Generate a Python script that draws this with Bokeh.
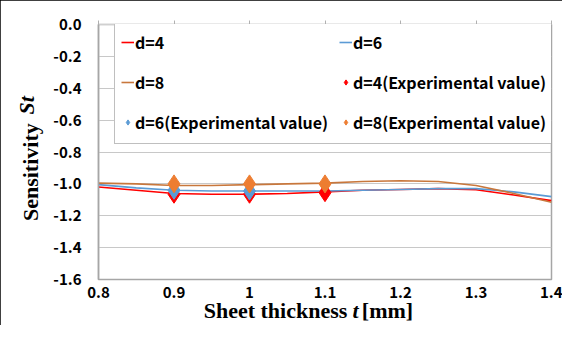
import math
from bokeh.plotting import figure
from bokeh.models import (Range1d, LinearAxis, FixedTicker, Legend, LegendItem)
from bokeh.embed import file_html
from bokeh.resources import INLINE

# ---- data ----
thickness = [0.80, 0.85, 0.90, 0.95, 1.00, 1.05, 1.10, 1.15, 1.20, 1.25, 1.30, 1.35, 1.40]
st_d4 = [-1.020, -1.040, -1.060, -1.065, -1.065, -1.060, -1.050, -1.040, -1.035, -1.030, -1.037, -1.070, -1.105]
st_d6 = [-1.005, -1.025, -1.040, -1.045, -1.045, -1.045, -1.045, -1.040, -1.035, -1.030, -1.030, -1.050, -1.080]
st_d8 = [-0.995, -1.000, -1.010, -1.010, -1.005, -1.000, -0.995, -0.985, -0.980, -0.985, -1.010, -1.060, -1.115]

exp_t4 = [0.9, 1.0, 1.1]
exp_d4 = [-1.065, -1.065, -1.055]
exp_t6 = [0.9, 1.0]
exp_d6 = [-1.040, -1.045]
exp_t8 = [0.9, 1.0, 1.1]
exp_d8 = [-1.000, -1.000, -1.000]

x_ticks = [0.8, 0.9, 1.0, 1.1, 1.2, 1.3, 1.4]
x_tick_labels = ["0.8", "0.9", "1", "1.1", "1.2", "1.3", "1.4"]
y_ticks = [0.0, -0.2, -0.4, -0.6, -0.8, -1.0, -1.2, -1.4, -1.6]
y_tick_labels = ["0.0", "-0.2", "-0.4", "-0.6", "-0.8", "-1.0", "-1.2", "-1.4", "-1.6"]

C_RED = "#ff0000"
C_BLUE = "#5b9bd5"
C_D8LINE = "#c8773c"
C_ORANGE = "#ed7d31"

TICK_FONT = "Noto Sans CJK JP"
TITLE_FONT = "Liberation Serif"
TITLE_SIZE = "22px"
TITLE_H = 24   # measured height of a title text line (px)

# canvas / frame geometry (pixels)
W, H = 562, 325
FL, FR, FT, FB = 98, 551, 24, 283   # frame edges in canvas px
X0, X1, Y0, Y1 = 0.8, 1.4, -1.6, 0.0

def dx(cx):  # canvas px -> data x
    return X0 + (cx - FL) / (FR - FL) * (X1 - X0)

def dy(cy):  # canvas px (from top) -> data y
    return Y1 - (cy - FT) / (FB - FT) * (Y1 - Y0)

p = figure(width=W, height=H, output_backend="svg", toolbar_location=None,
           x_range=Range1d(X0, X1), y_range=Range1d(Y0, Y1),
           min_border_left=FL, min_border_right=W - FR, min_border_top=FT, min_border_bottom=H - FB,
           x_axis_location=None, y_axis_location=None)
p.background_fill_color = "white"
p.border_fill_color = "white"
p.outline_line_color = "#a6a6a6"
p.outline_line_width = 1.5
p.styles = {"outline": "3px solid black", "outline-offset": "-3px"}

def bare_axis(ticks, overrides):
    ax = LinearAxis(ticker=FixedTicker(ticks=ticks), major_label_overrides=overrides)
    ax.axis_line_color = None
    ax.major_tick_line_color = None
    ax.minor_tick_line_color = None
    ax.major_tick_out = 0
    ax.major_tick_in = 0
    return ax

# y axis (left) with tick labels
yax = LinearAxis(ticker=FixedTicker(ticks=y_ticks),
                 major_label_overrides={t: l for t, l in zip(y_ticks, y_tick_labels)})
yax.axis_line_color = "#a6a6a6"
yax.axis_line_width = 1.5
yax.major_tick_line_color = None
yax.minor_tick_line_color = None
yax.major_tick_out = 0
yax.major_label_standoff = 17
yax.major_label_text_font = TICK_FONT
yax.major_label_text_font_style = "bold"
yax.major_label_text_font_size = "15px"
yax.major_label_text_color = "black"
p.add_layout(yax, "left")

# x axis tick labels (below)
xax = bare_axis(x_ticks, {t: l for t, l in zip(x_ticks, x_tick_labels)})
xax.major_label_standoff = 7
xax.major_label_text_font = TICK_FONT
xax.major_label_text_font_style = "bold"
xax.major_label_text_font_size = "15px"
xax.major_label_text_color = "black"
p.add_layout(xax, "below")

# x axis line with tick marks at the top (the axis crosses at 0)
xtop = LinearAxis(ticker=FixedTicker(ticks=x_ticks),
                  major_label_overrides={t: "" for t in x_ticks})
xtop.axis_line_color = "#d0d0d0"
xtop.major_tick_line_color = "#b0b0b0"
xtop.major_tick_out = 4
xtop.major_tick_in = 0
xtop.minor_tick_line_color = None
xtop.major_label_standoff = 0
p.add_layout(xtop, "above")

# ---- x title: "Sheet thickness " (bold) + "t" (bold italic) + "[mm]" (bold) ----
xt_pos_a = [dx(275), dx(387)]
xt1 = bare_axis(xt_pos_a, {xt_pos_a[0]: "Sheet thickness", xt_pos_a[1]: "[mm]"})
xt1.major_label_standoff = -3
xt1.major_label_text_font = TITLE_FONT
xt1.major_label_text_font_style = "bold"
xt1.major_label_text_font_size = TITLE_SIZE
xt1.major_label_text_color = "black"
p.add_layout(xt1, "below")

xt_pos_b = [dx(355)]
xt2 = bare_axis(xt_pos_b, {xt_pos_b[0]: "t"})
xt2.major_label_standoff = -28
xt2.major_label_text_font = TITLE_FONT
xt2.major_label_text_font_style = "bold italic"
xt2.major_label_text_font_size = TITLE_SIZE
xt2.major_label_text_color = "black"
p.add_layout(xt2, "below")

# ---- y title: "Sensitivity " (bold) + "St" (bold italic) ----
yt_pos_a = [dy(174)]
yt1 = bare_axis(yt_pos_a, {yt_pos_a[0]: "Sensitivity"})
yt1.major_label_orientation = "vertical"
yt1.major_label_standoff = 7
yt1.major_label_text_font = TITLE_FONT
yt1.major_label_text_font_style = "bold"
yt1.major_label_text_font_size = TITLE_SIZE
yt1.major_label_text_color = "black"
p.add_layout(yt1, "left")

yt_pos_b = [dy(106)]
yt2 = bare_axis(yt_pos_b, {yt_pos_b[0]: "St"})
yt2.major_label_orientation = "vertical"
yt2.major_label_standoff = -TITLE_H
yt2.major_label_text_font = TITLE_FONT
yt2.major_label_text_font_style = "bold italic"
yt2.major_label_text_font_size = TITLE_SIZE
yt2.major_label_text_color = "black"
p.add_layout(yt2, "left")

# grid
p.ygrid.ticker = FixedTicker(ticks=y_ticks)
p.ygrid.grid_line_color = "#c8c8c8"
p.xgrid.grid_line_color = None

# series
r4 = p.line(thickness, st_d4, line_color=C_RED, line_width=1.6)
r6 = p.line(thickness, st_d6, line_color=C_BLUE, line_width=1.6)
r8 = p.line(thickness, st_d8, line_color=C_D8LINE, line_width=1.6)
m4 = p.scatter(exp_t4, exp_d4, marker="diamond", size=18, fill_color=C_RED, line_color=C_RED)
m6 = p.scatter(exp_t6, exp_d6, marker="diamond", size=18, fill_color=C_BLUE, line_color=C_BLUE)
m8 = p.scatter(exp_t8, exp_d8, marker="diamond", size=18, fill_color=C_ORANGE, line_color=C_ORANGE)

legend = Legend(items=[
    LegendItem(label="d=4", renderers=[r4]),
    LegendItem(label="d=6", renderers=[r6]),
    LegendItem(label="d=8", renderers=[r8]),
    LegendItem(label="d=4(Experimental value)", renderers=[m4]),
    LegendItem(label="d=6(Experimental value)", renderers=[m6]),
    LegendItem(label="d=8(Experimental value)", renderers=[m8]),
], location=(16, FB - 148), orientation="horizontal", ncols=2)
legend.border_line_color = "#808080"
legend.border_line_width = 1.5
legend.background_fill_color = "white"
legend.background_fill_alpha = 1.0
legend.label_text_font = TICK_FONT
legend.label_text_font_style = "bold"
legend.label_text_font_size = "16px"
legend.label_text_color = "black"
legend.glyph_width = 13
legend.glyph_height = 30
legend.label_height = 30
legend.label_standoff = 1
legend.label_width = 194
legend.spacing = 10
legend.padding = 6
legend.margin = 0
p.add_layout(legend, "center")

open("out.html", "w").write(file_html(p, INLINE))
